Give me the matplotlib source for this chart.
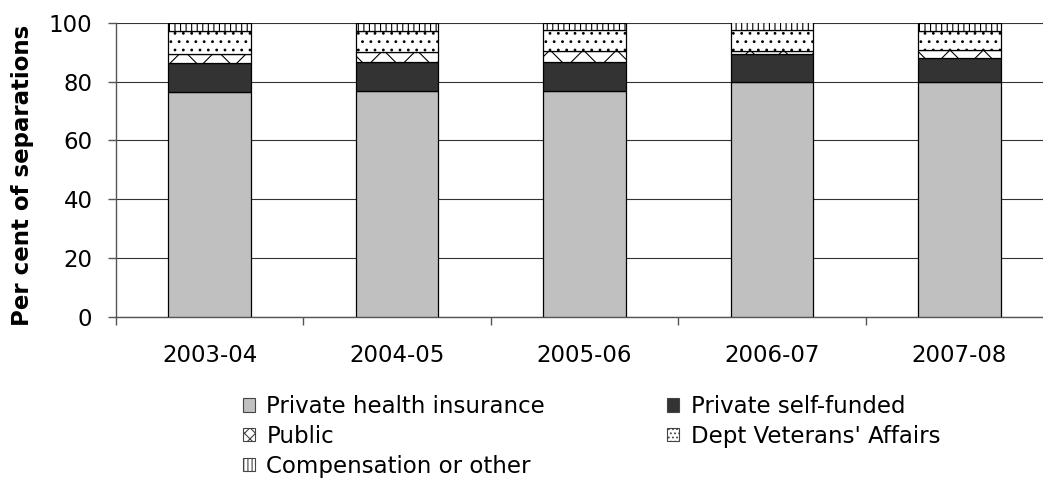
import numpy as np
import matplotlib
matplotlib.use("Agg")
import matplotlib.pyplot as plt
from matplotlib.patches import Patch

# -------------------------
# Data (per cent of separations)
# -------------------------
years = ["2003-04", "2004-05", "2005-06", "2006-07", "2007-08"]
private_insurance = [76.4, 76.9, 76.9, 80.0, 80.0]
private_self_funded = [9.9, 9.7, 9.9, 9.3, 8.2]
public = [3.0, 3.4, 3.8, 1.3, 2.7]
dva = [8.1, 7.4, 6.9, 7.1, 6.5]
compensation = [2.6, 2.6, 2.5, 2.5, 2.5]

series_labels = ["Private health insurance", "Private self-funded", "Public",
                 "Dept Veterans' Affairs", "Compensation or other"]

# -------------------------
# Styling
# -------------------------
plt.rcParams["font.family"] = ["DejaVu Sans"]
plt.rcParams["hatch.linewidth"] = 0.8
FS = 16.5

fig = plt.figure(figsize=(10.43, 4.87), dpi=100)
ax = fig.add_axes([116 / 1043, 1 - 316.5 / 487, 937 / 1043, 293.5 / 487])

x = np.arange(len(years))
width = 0.44

# (face colour, bar hatch, legend hatch)
styles = [
    ("#c0c0c0", None, None),
    ("#333333", None, None),
    ("white", "x", "xxx"),
    ("white", "..", "...."),
    ("white", "|||", "||||"),
]
values = [private_insurance, private_self_funded, public, dva, compensation]

bottom = np.zeros(len(years))
for vals, (fc, h, _), lab in zip(values, styles, series_labels):
    ax.bar(x, vals, width, bottom=bottom, color=fc, hatch=h,
           edgecolor="black", linewidth=0.9, zorder=3)
    bottom += np.array(vals)

# -------------------------
# Axes
# -------------------------
ax.set_xlim(-0.5, len(years) - 0.5)
ax.set_ylim(0, 100)
ax.set_yticks([0, 20, 40, 60, 80, 100])
ax.yaxis.grid(True, color="#333333", linewidth=0.8, zorder=0)
ax.set_axisbelow(True)

for s in ["top", "right"]:
    ax.spines[s].set_visible(False)
for s in ["left", "bottom"]:
    ax.spines[s].set_color("#555555")
    ax.spines[s].set_linewidth(1.0)

ax.set_xticks(x)
ax.set_xticklabels(years)
ax.set_xticks(np.arange(len(years)) - 0.5, minor=True)
ax.tick_params(axis="x", which="major", length=0, pad=20, labelsize=FS)
ax.tick_params(axis="x", which="minor", length=6, direction="out",
               color="#555555", width=1.0)
ax.tick_params(axis="y", length=6, direction="out", color="#555555",
               width=1.0, pad=11, labelsize=FS)

ax.set_ylabel("Per cent of separations", fontsize=FS, fontweight="bold")
ax.yaxis.set_label_coords(-0.087, 0.48)

# -------------------------
# Legend (row-wise order in two columns)
# -------------------------
proxies = [Patch(facecolor=fc, edgecolor="#444444", hatch=lh, linewidth=0.8)
           for fc, _, lh in styles]
order = [0, 2, 4, 1, 3]
fig.legend([proxies[i] for i in order], [series_labels[i] for i in order],
           ncol=2, loc="upper left", bbox_to_anchor=(243 / 1043, 1 - 395 / 487),
           frameon=False, fontsize=FS, borderpad=0, borderaxespad=0,
           handlelength=0.52, handleheight=0.52, handletextpad=0.5,
           labelspacing=0.3, columnspacing=5.33)

fig.savefig("out.png", dpi=100)
